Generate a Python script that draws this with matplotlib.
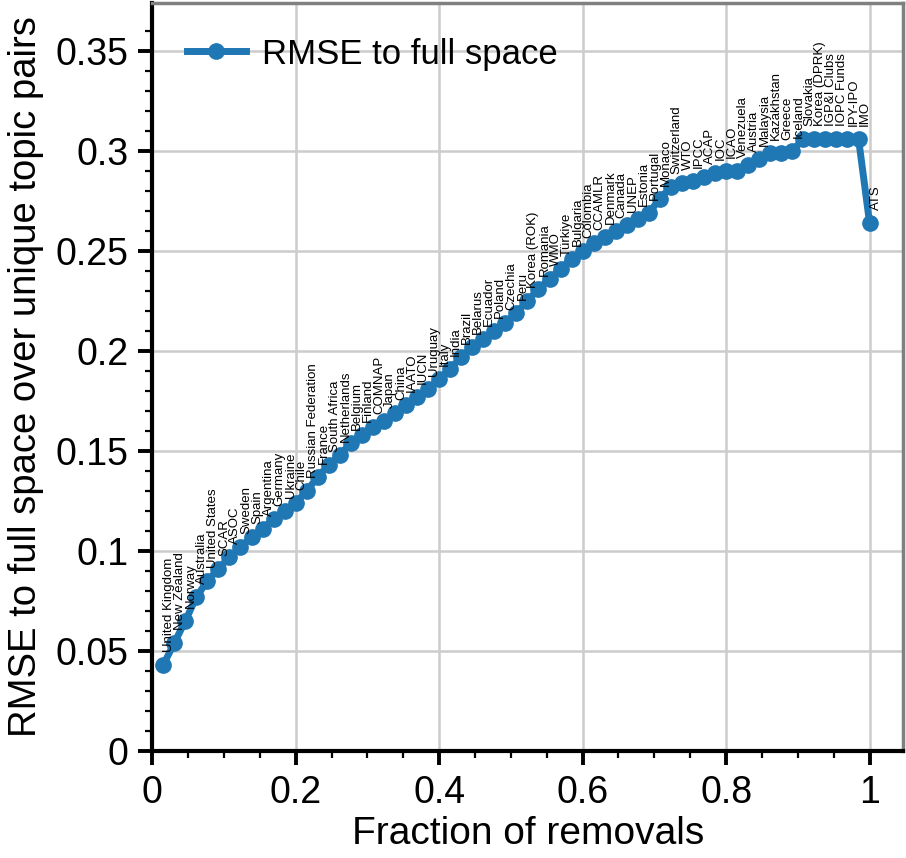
import numpy as np
import matplotlib.pyplot as plt

plt.rcParams['font.family'] = ['Liberation Sans', 'DejaVu Sans']

# ----- Datos -----
etiquetas = [
    "United Kingdom", "New Zealand", "Norway", "Australia", "United States",
    "SCAR", "ASOC", "Sweden", "Spain", "Argentina", "Germany", "Ukraine",
    "Chile", "Russian Federation", "France", "South Africa", "Netherlands",
    "Belgium", "Finland", "COMNAP", "Japan", "China", "IAATO", "IUCN",
    "Uruguay", "Italy", "India", "Brazil", "Belarus", "Ecuador", "Poland",
    "Czechia", "Peru", "Korea (ROK)", "Romania", "WMO", "Türkiye", "Bulgaria",
    "Colombia", "CCAMLR", "Denmark", "Canada", "UNEP", "Estonia", "Portugal",
    "Monaco", "Switzerland", "WTO", "IPCC", "ACAP", "IOC", "ICAO", "Venezuela",
    "Austria", "Malaysia", "Kazakhstan", "Greece", "Iceland", "Slovakia",
    "Korea (DPRK)", "IGP&I Clubs", "IOPC Funds", "IPY-IPO", "IMO", "ATS",
]
rmse = [
    0.043, 0.054, 0.065, 0.077, 0.085, 0.091, 0.097, 0.102, 0.107, 0.111,
    0.116, 0.120, 0.124, 0.130, 0.137, 0.143, 0.148, 0.154, 0.158, 0.162,
    0.165, 0.169, 0.173, 0.177, 0.181, 0.186, 0.191, 0.197, 0.202, 0.206,
    0.210, 0.214, 0.219, 0.225, 0.231, 0.236, 0.241, 0.246, 0.250, 0.254,
    0.257, 0.260, 0.263, 0.266, 0.269, 0.276, 0.282, 0.284, 0.285, 0.287,
    0.289, 0.290, 0.290, 0.293, 0.296, 0.299, 0.299, 0.300, 0.306, 0.306,
    0.306, 0.306, 0.306, 0.306, 0.264,
]
n = len(rmse)
fraccion = np.arange(1, n + 1) / n

# ----- Grafico -----
fig = plt.figure(figsize=(9.06, 8.58), dpi=100)
ax = fig.add_axes([0.168, 0.1247, 0.829, 0.872])

ax.plot(fraccion, rmse, '-o', color='#1f77b4', lw=5, ms=11,
        label='RMSE to full space', zorder=3)

for x, y, nombre in zip(fraccion, rmse, etiquetas):
    ax.annotate(nombre, (x, y), xytext=(0, 9), textcoords='offset points',
                rotation=90, ha='left', va='bottom', fontsize=9.5)

ax.set_xlim(0, 1.047)
ax.set_ylim(0, 0.374)
ax.set_xticks([0, 0.2, 0.4, 0.6, 0.8, 1])
ax.set_xticklabels(["0", "0.2", "0.4", "0.6", "0.8", "1"])
ax.set_yticks([0, 0.05, 0.1, 0.15, 0.2, 0.25, 0.3, 0.35])
ax.set_yticklabels(["0", "0.05", "0.1", "0.15", "0.2", "0.25", "0.3", "0.35"])
ax.set_xticks(np.arange(0, 1.05, 0.05), minor=True)
ax.set_yticks(np.arange(0, 0.37, 0.01), minor=True)

ax.tick_params(which='major', direction='out', length=10, width=2.8,
               labelsize=27, pad=7)
ax.tick_params(which='minor', direction='out', length=5, width=1.6)
ax.grid(True, which='major', color='#cccccc', lw=1.8)
ax.set_axisbelow(True)

for lado in ['left', 'bottom']:
    ax.spines[lado].set_linewidth(3)
    ax.spines[lado].set_color('black')
for lado in ['top', 'right']:
    ax.spines[lado].set_linewidth(2.5)
    ax.spines[lado].set_color('#808080')

ax.set_xlabel("Fraction of removals", fontsize=28, labelpad=4)
ax.set_ylabel("RMSE to full space over unique topic pairs", fontsize=27.5, labelpad=8)
ax.legend(loc='upper left', frameon=False, fontsize=25, handlelength=1.7,
          handletextpad=0.45, borderaxespad=0.6)

fig.savefig("out.png", dpi=100)
